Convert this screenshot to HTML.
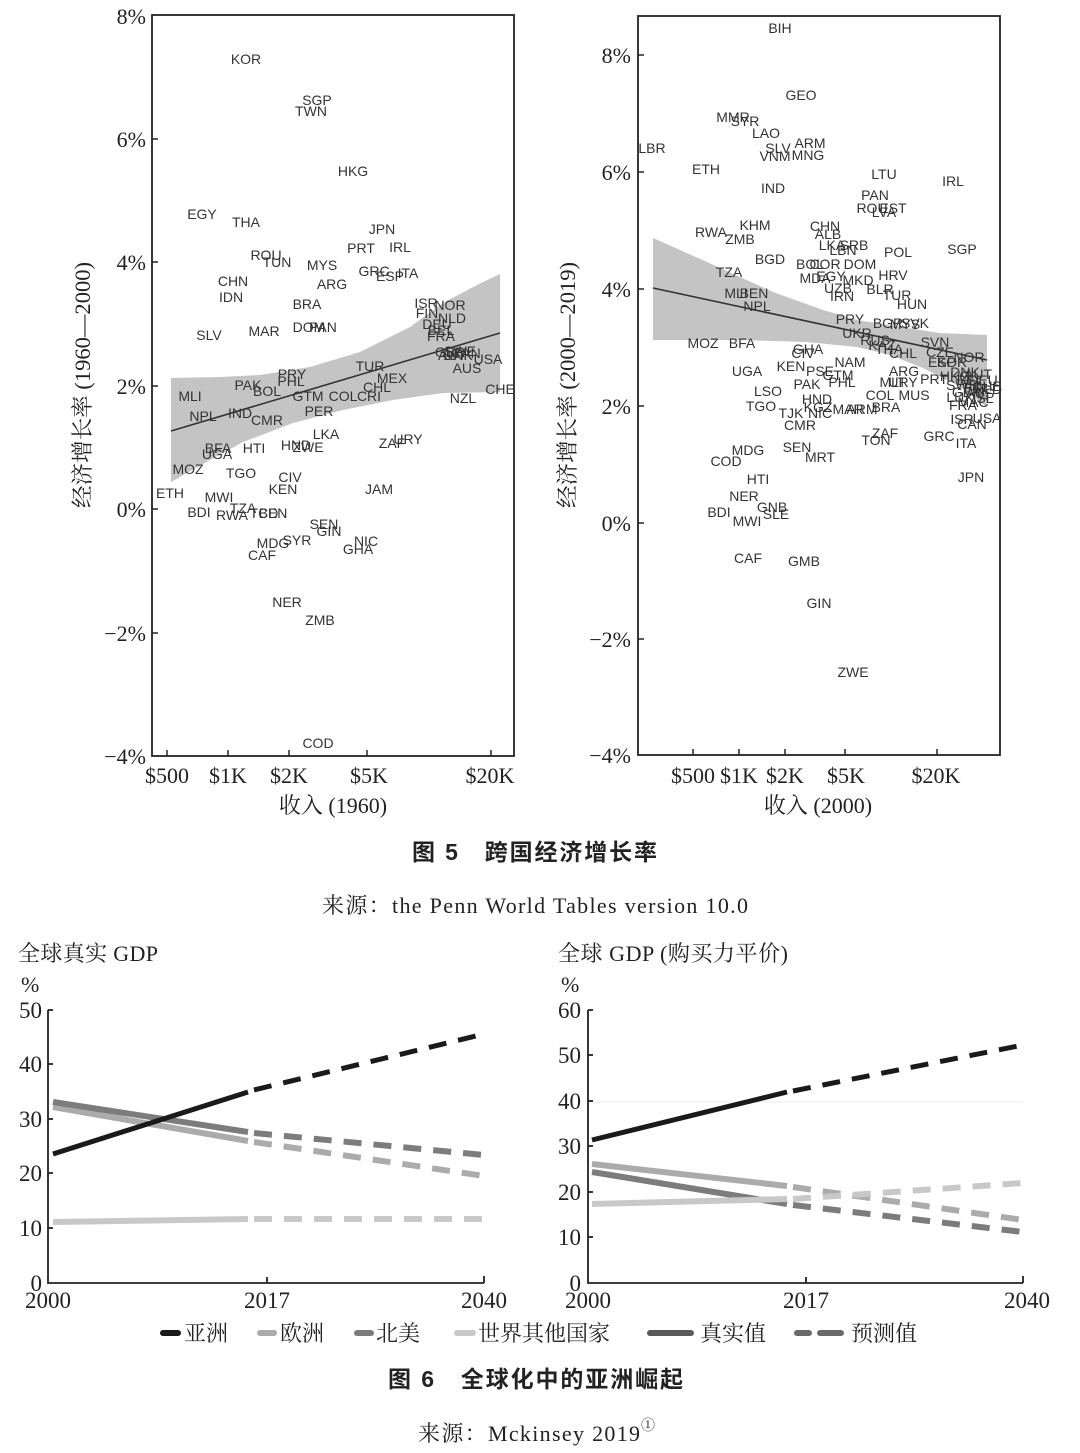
<!DOCTYPE html>
<html><head><meta charset="utf-8"><style>
html,body{margin:0;padding:0;background:#fff}
svg{display:block}
.l{font-family:"Liberation Sans",Arial,sans-serif;font-size:14px;fill:#333;text-anchor:middle}
.s{font-family:"Liberation Serif","Noto Serif CJK SC",serif;fill:#222}
.t{font-family:"Liberation Serif","Noto Serif CJK SC",serif;font-size:22px;fill:#222;text-anchor:end}
.x{font-family:"Liberation Serif","Noto Serif CJK SC",serif;font-size:22px;fill:#222;text-anchor:middle}
.c{font-family:"Liberation Sans","Noto Sans CJK SC",sans-serif;font-weight:700;font-size:23px;fill:#222}
</style></head><body>
<svg width="1080" height="1453" viewBox="0 0 1080 1453" xmlns="http://www.w3.org/2000/svg">
<rect width="1080" height="1453" fill="#fff"/>

<!-- ===== LEFT SCATTER ===== -->
<polygon points="171,378 220,377 260,375 310,367 360,352 410,327 443,303 477,285 500,274 500,392 443,393 393,400 343,410 293,423 243,442 210,460 171,482" fill="#c4c4c4"/>
<line x1="171" y1="431" x2="500" y2="333" stroke="#333" stroke-width="1.6"/>
<rect x="152" y="15" width="362" height="741" fill="none" stroke="#222" stroke-width="1.8"/>
<g stroke="#222" stroke-width="1.5">
<line x1="152" y1="139" x2="158" y2="139"/><line x1="152" y1="262" x2="158" y2="262"/><line x1="152" y1="386" x2="158" y2="386"/><line x1="152" y1="509" x2="158" y2="509"/><line x1="152" y1="633" x2="158" y2="633"/>
<line x1="167" y1="756" x2="167" y2="750"/><line x1="228" y1="756" x2="228" y2="750"/><line x1="289" y1="756" x2="289" y2="750"/><line x1="367" y1="756" x2="367" y2="750"/><line x1="491" y1="756" x2="491" y2="750"/>
</g>
<text class="t" x="146" y="24">8%</text>
<text class="t" x="146" y="147">6%</text>
<text class="t" x="146" y="270">4%</text>
<text class="t" x="146" y="394">2%</text>
<text class="t" x="146" y="517">0%</text>
<text class="t" x="146" y="641">−2%</text>
<text class="t" x="146" y="764">−4%</text>
<text class="x" x="167" y="783">$500</text>
<text class="x" x="228" y="783">$1K</text>
<text class="x" x="289" y="783">$2K</text>
<text class="x" x="369" y="783">$5K</text>
<text class="x" x="490" y="783">$20K</text>
<text class="x" x="333" y="813">收入 (1960)</text>
<text class="x" transform="translate(90,385) rotate(-90)" textLength="246" lengthAdjust="spacingAndGlyphs">经济增长率 (1960—2000)</text>

<g class="l">
<text x="246" y="64">KOR</text><text x="317" y="105">SGP</text><text x="311" y="116">TWN</text><text x="353" y="176">HKG</text>
<text x="202" y="219">EGY</text><text x="246" y="227">THA</text><text x="382" y="234">JPN</text><text x="361" y="253">PRT</text><text x="400" y="252">IRL</text>
<text x="266" y="260">ROU</text><text x="277" y="267">TUN</text><text x="322" y="270">MYS</text><text x="374" y="276">GRC</text><text x="390" y="281">ESP</text><text x="408" y="278">ITA</text>
<text x="233" y="286">CHN</text><text x="332" y="289">ARG</text><text x="231" y="302">IDN</text><text x="307" y="309">BRA</text>
<text x="426" y="308">ISR</text><text x="450" y="310">NOR</text><text x="427" y="318">FIN</text><text x="452" y="323">NLD</text><text x="437" y="329">DEU</text><text x="441" y="335">BEL</text><text x="441" y="341">FRA</text>
<text x="209" y="340">SLV</text><text x="264" y="336">MAR</text><text x="309" y="332">DOM</text><text x="323" y="332">PAN</text>
<text x="450" y="357">GBR</text><text x="460" y="356">SWE</text><text x="458" y="360">DNK</text><text x="466" y="358">CAN</text><text x="452" y="360">AUT</text><text x="488" y="364">USA</text>
<text x="467" y="373">AUS</text><text x="370" y="371">TUR</text><text x="292" y="379">PRY</text><text x="291" y="386">PHL</text><text x="248" y="390">PAK</text><text x="267" y="396">BOL</text>
<text x="392" y="383">MEX</text><text x="377" y="392">CHL</text><text x="190" y="401">MLI</text><text x="308" y="401">GTM</text><text x="343" y="401">COL</text><text x="369" y="401">CRI</text>
<text x="500" y="394">CHE</text><text x="463" y="403">NZL</text><text x="319" y="416">PER</text><text x="203" y="421">NPL</text><text x="240" y="418">IND</text><text x="267" y="425">CMR</text>
<text x="326" y="439">LKA</text><text x="408" y="444">URY</text><text x="392" y="448">ZAF</text><text x="218" y="453">BFA</text><text x="217" y="459">UGA</text><text x="254" y="453">HTI</text>
<text x="296" y="450">HND</text><text x="308" y="452">ZWE</text><text x="188" y="474">MOZ</text><text x="241" y="478">TGO</text><text x="290" y="482">CIV</text><text x="283" y="494">KEN</text><text x="379" y="494">JAM</text>
<text x="170" y="498">ETH</text><text x="219" y="502">MWI</text><text x="243" y="513">TZA</text><text x="199" y="517">BDI</text><text x="232" y="520">RWA</text><text x="264" y="518">TCD</text><text x="273" y="518">BEN</text>
<text x="324" y="529">SEN</text><text x="329" y="536">GIN</text><text x="366" y="546">NIC</text><text x="358" y="554">GHA</text><text x="273" y="548">MDG</text><text x="297" y="545">SYR</text><text x="262" y="560">CAF</text>
<text x="287" y="607">NER</text><text x="320" y="625">ZMB</text><text x="318" y="748">COD</text>
</g>

<!-- ===== RIGHT SCATTER ===== -->
<polygon points="653,238 707,262 773,292 823,310 857,320 907,328 940,333 987,335 987,407 957,385 923,368 890,355 857,347 807,342 740,340 653,340" fill="#c4c4c4"/>
<line x1="653" y1="288" x2="987" y2="360" stroke="#333" stroke-width="1.6"/>
<rect x="638" y="16" width="362" height="739" fill="none" stroke="#222" stroke-width="1.8"/>
<g stroke="#222" stroke-width="1.5">
<line x1="638" y1="55" x2="644" y2="55"/><line x1="638" y1="172" x2="644" y2="172"/><line x1="638" y1="289" x2="644" y2="289"/><line x1="638" y1="406" x2="644" y2="406"/><line x1="638" y1="523" x2="644" y2="523"/><line x1="638" y1="639" x2="644" y2="639"/>
<line x1="693" y1="755" x2="693" y2="749"/><line x1="739" y1="755" x2="739" y2="749"/><line x1="785" y1="755" x2="785" y2="749"/><line x1="845" y1="755" x2="845" y2="749"/><line x1="937" y1="755" x2="937" y2="749"/>
</g>
<text class="t" x="631" y="63">8%</text>
<text class="t" x="631" y="180">6%</text>
<text class="t" x="631" y="297">4%</text>
<text class="t" x="631" y="414">2%</text>
<text class="t" x="631" y="531">0%</text>
<text class="t" x="631" y="647">−2%</text>
<text class="t" x="631" y="763">−4%</text>
<text class="x" x="693" y="783">$500</text>
<text class="x" x="739" y="783">$1K</text>
<text class="x" x="785" y="783">$2K</text>
<text class="x" x="846" y="783">$5K</text>
<text class="x" x="936" y="783">$20K</text>
<text class="x" x="818" y="813">收入 (2000)</text>
<text class="x" transform="translate(575,385) rotate(-90)" textLength="246" lengthAdjust="spacingAndGlyphs">经济增长率 (2000—2019)</text>

<g class="l">
<text x="780" y="33">BIH</text><text x="801" y="100">GEO</text><text x="733" y="122">MMR</text><text x="745" y="126">SYR</text><text x="766" y="138">LAO</text>
<text x="652" y="153">LBR</text><text x="810" y="148">ARM</text><text x="778" y="153">SLV</text><text x="775" y="161">VNM</text><text x="808" y="160">MNG</text>
<text x="706" y="174">ETH</text><text x="884" y="179">LTU</text><text x="953" y="186">IRL</text><text x="773" y="193">IND</text><text x="875" y="200">PAN</text>
<text x="872" y="213">ROU</text><text x="893" y="213">EST</text><text x="884" y="217">LVA</text><text x="755" y="230">KHM</text>
<text x="711" y="237">RWA</text><text x="740" y="244">ZMB</text><text x="825" y="231">CHN</text><text x="828" y="239">ALB</text>
<text x="832" y="250">LKA</text><text x="854" y="250">SRB</text><text x="843" y="255">LBN</text><text x="898" y="257">POL</text><text x="962" y="254">SGP</text>
<text x="770" y="264">BGD</text><text x="810" y="269">BOL</text><text x="825" y="269">COR</text><text x="860" y="269">DOM</text><text x="729" y="277">TZA</text>
<text x="893" y="280">HRV</text><text x="831" y="281">EGY</text><text x="815" y="283">MDA</text><text x="858" y="285">MKD</text>
<text x="736" y="298">MLI</text><text x="754" y="298">BEN</text><text x="838" y="293">UZB</text><text x="842" y="301">IRN</text><text x="880" y="294">BLR</text><text x="897" y="300">TUR</text><text x="912" y="309">HUN</text>
<text x="757" y="311">NPL</text><text x="850" y="324">PRY</text><text x="888" y="328">BGR</text><text x="905" y="329">MYS</text><text x="915" y="328">SVK</text>
<text x="857" y="338">UKR</text><text x="875" y="345">RUS</text><text x="882" y="350">KAZ</text><text x="903" y="358">CHL</text><text x="889" y="354">THA</text>
<text x="935" y="347">SVN</text><text x="940" y="357">CZE</text><text x="969" y="362">NOR</text><text x="942" y="367">ESP</text><text x="952" y="367">KOR</text>
<text x="703" y="348">MOZ</text><text x="742" y="348">BFA</text><text x="808" y="354">GHA</text><text x="803" y="358">CIV</text><text x="791" y="371">KEN</text>
<text x="850" y="367">NAM</text><text x="820" y="376">PSE</text><text x="838" y="380">GTM</text><text x="842" y="387">PHL</text><text x="904" y="376">ARG</text><text x="747" y="376">UGA</text>
<text x="807" y="389">PAK</text><text x="893" y="387">MLT</text><text x="903" y="387">URY</text><text x="934" y="384">PRT</text>
<text x="965" y="377">DNK</text><text x="978" y="379">AUT</text><text x="970" y="385">BEL</text><text x="983" y="385">DEU</text><text x="962" y="390">SWE</text><text x="975" y="392">FIN</text>
<text x="988" y="394">NLD</text><text x="967" y="397">GBR</text><text x="980" y="398">AUS</text><text x="960" y="402">LUX</text><text x="983" y="403">ISL</text><text x="955" y="381">HKG</text><text x="973" y="407">MAC</text>
<text x="987" y="391">CHE</text><text x="963" y="410">FRA</text>
<text x="768" y="396">LSO</text><text x="880" y="400">COL</text><text x="914" y="400">MUS</text><text x="761" y="411">TGO</text><text x="817" y="404">HND</text><text x="818" y="412">KGZ</text>
<text x="791" y="418">TJK</text><text x="820" y="418">NIC</text><text x="848" y="414">MAR</text><text x="862" y="414">ARM</text><text x="886" y="412">BRA</text>
<text x="800" y="430">CMR</text><text x="962" y="424">ISR</text><text x="987" y="423">USA</text><text x="972" y="429">CAN</text><text x="885" y="438">ZAF</text><text x="876" y="445">TON</text>
<text x="939" y="441">GRC</text><text x="966" y="448">ITA</text><text x="748" y="455">MDG</text><text x="797" y="452">SEN</text><text x="726" y="466">COD</text><text x="820" y="462">MRT</text>
<text x="971" y="482">JPN</text><text x="758" y="484">HTI</text><text x="744" y="501">NER</text><text x="772" y="512">GNB</text><text x="776" y="519">SLE</text><text x="719" y="517">BDI</text><text x="747" y="526">MWI</text>
<text x="748" y="563">CAF</text><text x="804" y="566">GMB</text><text x="819" y="608">GIN</text><text x="853" y="677">ZWE</text>
</g>

<!-- captions fig 5 -->
<text class="c" x="412" y="860" textLength="245" lengthAdjust="spacing">图 5　跨国经济增长率</text>
<text class="s" x="322" y="913" font-size="22" textLength="426" lengthAdjust="spacing">来源：the Penn World Tables version 10.0</text>

<!-- ===== BOTTOM LEFT CHART ===== -->
<text class="s" x="18" y="961" font-size="22" textLength="140" lengthAdjust="spacing">全球真实 GDP</text>
<text class="s" x="21" y="992" font-size="22">%</text>
<g stroke="#222" stroke-width="1.8" fill="none">
<polyline points="48,1010 48,1283 484,1283"/>
<line x1="48" y1="1010" x2="53" y2="1010"/><line x1="48" y1="1064" x2="53" y2="1064"/><line x1="48" y1="1119" x2="53" y2="1119"/><line x1="48" y1="1173" x2="53" y2="1173"/><line x1="48" y1="1228" x2="53" y2="1228"/>
<line x1="267" y1="1283" x2="267" y2="1277"/><line x1="484" y1="1283" x2="484" y2="1276"/>
</g>
<g class="t" style="font-size:23px">
<text x="42" y="1018">50</text><text x="42" y="1072">40</text><text x="42" y="1127">30</text><text x="42" y="1181">20</text><text x="42" y="1236">10</text><text x="42" y="1291">0</text>
</g>
<g class="x" style="font-size:23px">
<text x="48" y="1308">2000</text><text x="267" y="1308">2017</text><text x="484" y="1308">2040</text>
</g>
<g fill="none" stroke-width="6">
<line x1="53" y1="1222" x2="248" y2="1219" stroke="#c8c8c8"/>
<line x1="254" y1="1219" x2="484" y2="1219" stroke="#c8c8c8" stroke-dasharray="18,12"/>
<line x1="53" y1="1107" x2="248" y2="1141" stroke="#ababab"/>
<line x1="254" y1="1142" x2="484" y2="1176" stroke="#ababab" stroke-dasharray="18,12"/>
<line x1="53" y1="1102" x2="248" y2="1132" stroke="#7c7c7c"/>
<line x1="254" y1="1133" x2="484" y2="1155" stroke="#7c7c7c" stroke-dasharray="18,12"/>
<line x1="53" y1="1154" x2="248" y2="1092" stroke="#1a1a1a" stroke-width="5"/>
<line x1="254" y1="1090" x2="484" y2="1034" stroke="#1a1a1a" stroke-width="5" stroke-dasharray="18,12"/>
</g>

<!-- ===== BOTTOM RIGHT CHART ===== -->
<text class="s" x="558" y="961" font-size="22" textLength="230" lengthAdjust="spacing">全球 GDP (购买力平价)</text>
<text class="s" x="561" y="992" font-size="22">%</text>
<line x1="590" y1="1102" x2="1023" y2="1102" stroke="#eee" stroke-width="1"/>
<g stroke="#222" stroke-width="1.8" fill="none">
<polyline points="588,1010 588,1283 1023,1283"/>
<line x1="588" y1="1010" x2="593" y2="1010"/><line x1="588" y1="1055" x2="593" y2="1055"/><line x1="588" y1="1101" x2="593" y2="1101"/><line x1="588" y1="1146" x2="593" y2="1146"/><line x1="588" y1="1192" x2="593" y2="1192"/><line x1="588" y1="1237" x2="593" y2="1237"/>
<line x1="806" y1="1283" x2="806" y2="1277"/><line x1="1023" y1="1283" x2="1023" y2="1276"/>
</g>
<g class="t" style="font-size:23px">
<text x="581" y="1018">60</text><text x="581" y="1063">50</text><text x="581" y="1109">40</text><text x="581" y="1154">30</text><text x="581" y="1200">20</text><text x="581" y="1245">10</text><text x="581" y="1291">0</text>
</g>
<g class="x" style="font-size:23px">
<text x="588" y="1308">2000</text><text x="806" y="1308">2017</text><text x="1027" y="1308">2040</text>
</g>
<g fill="none" stroke-width="6">
<line x1="592" y1="1164" x2="787" y2="1186" stroke="#ababab"/>
<line x1="793" y1="1187" x2="1023" y2="1220" stroke="#ababab" stroke-dasharray="18,12"/>
<line x1="592" y1="1172" x2="787" y2="1204" stroke="#7c7c7c"/>
<line x1="793" y1="1205" x2="1023" y2="1232" stroke="#7c7c7c" stroke-dasharray="18,12"/>
<line x1="592" y1="1204" x2="787" y2="1199" stroke="#c8c8c8"/>
<line x1="793" y1="1199" x2="1023" y2="1183" stroke="#c8c8c8" stroke-dasharray="18,12"/>
<line x1="592" y1="1140" x2="787" y2="1092" stroke="#1a1a1a" stroke-width="5"/>
<line x1="793" y1="1091" x2="1023" y2="1045" stroke="#1a1a1a" stroke-width="5" stroke-dasharray="18,12"/>
</g>

<!-- legend -->
<g stroke-width="6" stroke-linecap="round">
<line x1="163" y1="1333" x2="178" y2="1333" stroke="#1a1a1a"/>
<line x1="260" y1="1333" x2="274" y2="1333" stroke="#ababab"/>
<line x1="357" y1="1333" x2="371" y2="1333" stroke="#7c7c7c"/>
<line x1="457" y1="1333" x2="473" y2="1333" stroke="#c8c8c8"/>
<line x1="650" y1="1333" x2="691" y2="1333" stroke="#5a5a5a"/>
<line x1="797" y1="1333" x2="809" y2="1333" stroke="#6a6a6a"/>
<line x1="820" y1="1333" x2="841" y2="1333" stroke="#6a6a6a"/>
</g>
<g class="s" font-size="22">
<text x="184" y="1341">亚洲</text>
<text x="280" y="1341">欧洲</text>
<text x="376" y="1341">北美</text>
<text x="478" y="1341">世界其他国家</text>
<text x="700" y="1341">真实值</text>
<text x="851" y="1341">预测值</text>
</g>

<!-- captions fig 6 -->
<text class="c" x="388" y="1387" textLength="295" lengthAdjust="spacing">图 6　全球化中的亚洲崛起</text>
<text class="s" x="418" y="1441" font-size="22" textLength="222" lengthAdjust="spacing">来源：Mckinsey 2019</text>
<text class="s" x="641" y="1430" font-size="14">①</text>
</svg>
</body></html>
